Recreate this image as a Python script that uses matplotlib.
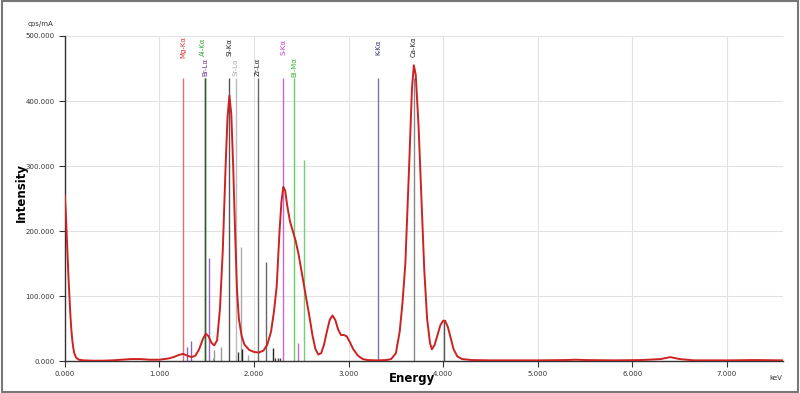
import matplotlib.pyplot as plot
from matplotlib.ticker import MultipleLocator, FormatStrFormatter

# measured spectrum (energy in keV, intensity in cps/mA)
spectrum_kev = [0.00, 0.01, 0.02, 0.03, 0.04, 0.05, 0.06, 0.07, 0.08, 0.09, 0.10, 0.12, 0.15, 0.20,
                0.30, 0.40, 0.50, 0.60, 0.70, 0.80, 0.90, 1.00, 1.05, 1.10, 1.15, 1.20, 1.25, 1.30,
                1.34, 1.38, 1.42, 1.46, 1.49, 1.52, 1.55, 1.58, 1.61, 1.64, 1.67, 1.70, 1.72, 1.74,
                1.76, 1.78, 1.80, 1.82, 1.84, 1.87, 1.90, 1.95, 2.00, 2.05, 2.10, 2.14, 2.18, 2.21,
                2.24, 2.27, 2.29, 2.31, 2.33, 2.35, 2.38, 2.41, 2.44, 2.47, 2.50, 2.53, 2.56, 2.59,
                2.62, 2.65, 2.68, 2.71, 2.74, 2.77, 2.80, 2.83, 2.86, 2.89, 2.92, 2.95, 2.98, 3.01,
                3.05, 3.10, 3.15, 3.20, 3.30, 3.40, 3.45, 3.50, 3.54, 3.57, 3.60, 3.64, 3.67, 3.69,
                3.71, 3.74, 3.77, 3.80, 3.83, 3.86, 3.88, 3.91, 3.94, 3.97, 4.00, 4.02, 4.05, 4.08,
                4.11, 4.15, 4.20, 4.30, 4.50, 5.00, 5.30, 5.40, 5.50, 5.80, 6.10, 6.30, 6.40, 6.50,
                6.65, 7.00, 7.30, 7.59]
spectrum_cps = [255, 230, 195, 160, 125, 95, 68, 47, 31, 20, 12, 5, 2, 1,
                0.5, 0.5, 1, 2, 3, 3, 2, 2, 3, 4, 6, 9, 11, 8,
                6, 8, 18, 34, 42, 38, 28, 24, 32, 80, 170, 300, 375, 408,
                380, 300, 200, 110, 65, 38, 25, 17, 14, 13, 16, 25, 45, 75,
                115, 200, 245, 268, 262, 240, 215, 200, 185, 165, 140, 115, 90, 65,
                38, 18, 10, 12, 25, 45, 63, 70, 63, 48, 40, 40, 38, 30,
                18, 8, 3, 1.5, 1, 1.5, 3, 12, 45, 90, 150, 300, 420, 455,
                440, 360, 250, 140, 65, 28, 18, 25, 40, 55, 62, 62, 52, 35,
                18, 7, 3, 1.5, 1, 1, 1.5, 2, 1.5, 1, 1.5, 3, 6, 3,
                1, 1, 1.5, 1]

# element lines with labels
line_names = ['Mg-Kα', 'Al-Kα', 'Br-Lα', 'Si-Kα', 'Sr-Lα', 'Zr-Lα', 'S-Kα', 'Bi-Mα', 'K-Kα', 'Ca-Kα']
line_kev = [1.254, 1.486, 1.480, 1.740, 1.806, 2.042, 2.307, 2.423, 3.313, 3.690]
line_height = [435, 435, 435, 435, 435, 435, 435, 435, 435, 435]
line_row = [0, 0, 1, 0, 1, 1, 0, 1, 0, 0]
label_offset = [0, -0.03, 0.01, 0, 0, 0, 0, 0, 0, 0]
label_colors = ['#e03333', '#33aa33', '#663399', '#222222', '#aaaaaa', '#222222', '#cc33cc', '#33bb33', '#333377', '#222222']
line_colors = ['#e07070', '#2f5f2f', '#2f5f2f', '#555555', '#bbbbbb', '#666666', '#cc66cc', '#66cc66', '#7777aa', '#888888']

# minor lines (no label)
minor_kev = [1.29, 1.33, 1.525, 1.565, 1.58, 1.65, 1.83, 1.86, 1.87, 1.94, 2.124, 2.20, 2.22, 2.25, 2.27, 2.464, 2.526, 4.013]
minor_height = [22, 31, 158, 5, 17, 22, 14, 175, 18, 9, 152, 20, 5, 5, 5, 28, 309, 62]
minor_colors = ['#8866bb', '#8866bb', '#9966cc', '#66cc66', '#999999', '#999999', '#333333', '#aaaaaa', '#222222',
                '#aaaaaa', '#666666', '#222222', '#444444', '#444444', '#444444', '#cc66cc', '#77cc77', '#555555']

figure = plot.figure(figsize=(8, 3.93), dpi=100)
axes = figure.add_axes([0.081, 0.0814, 0.8975, 0.827])

axes.vlines(minor_kev, 0, minor_height, colors=minor_colors, linewidth=1.0, zorder=2)
axes.vlines(line_kev, 0, line_height, colors=line_colors, linewidth=1.0, zorder=2)
axes.plot(spectrum_kev, spectrum_cps, color='#cc2222', linewidth=1.4, zorder=3)

for name, kev, row, off, col in zip(line_names, line_kev, line_row, label_offset, label_colors):
    y_text = 483 if row == 0 else 452
    axes.text(kev + off, y_text, name, rotation=90, ha='center', va='center', fontsize=5, color=col)

axes.set_xlim(0, 7.59)
axes.set_ylim(0, 500)
axes.xaxis.set_major_locator(MultipleLocator(1))
axes.yaxis.set_major_locator(MultipleLocator(100))
axes.xaxis.set_major_formatter(FormatStrFormatter('%.3f'))
axes.yaxis.set_major_formatter(FormatStrFormatter('%.3f'))
axes.tick_params(labelsize=5, colors='#333333', length=4, width=0.8)
axes.grid(True, color='#e2e2e2', linewidth=0.8, zorder=0)
axes.set_axisbelow(True)
for side in ['top', 'right']:
    axes.spines[side].set_visible(False)
for side in ['left', 'bottom']:
    axes.spines[side].set_color('#333333')
    axes.spines[side].set_linewidth(1.0)

figure.text(0.515, 0.036, 'Energy', ha='center', va='center', fontsize=8.5, fontweight='bold')
figure.text(0.0265, 0.509, 'Intensity', ha='center', va='center', rotation=90, fontsize=8.5, fontweight='bold')
figure.text(0.035, 0.94, 'cps/mA', ha='left', va='center', fontsize=5, color='#333333')
figure.text(0.978, 0.038, 'keV', ha='right', va='center', fontsize=5, color='#333333')

# grey frame around the whole picture
figure.patches.append(plot.Rectangle((0.002, 0.003), 0.996, 0.994, transform=figure.transFigure,
                                     fill=False, edgecolor='#777777', linewidth=1.5))

plot.savefig('out.png', dpi=100)
